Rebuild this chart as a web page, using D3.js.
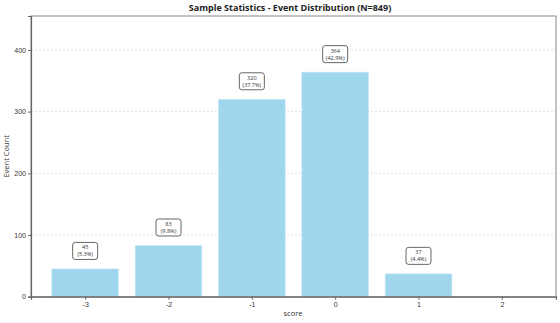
<!DOCTYPE html>
<html><head><meta charset="utf-8">
<script src="https://cdn.jsdelivr.net/npm/d3@7"></script>
<style>body{margin:0;background:#fff;} svg{display:block;font-family:"Open Sans",sans-serif;}</style>
</head><body>
<script>
const categories = [-3, -2, -1, 0, 1, 2];
const counts = [45, 83, 320, 364, 37, 0];
const total = 849;
const yTicks = [0, 100, 200, 300, 400];

const W = 560, H = 323;
const m = {left: 31, right: 4, top: 16, bottom: 26.3};
const svg = d3.select("body").append("svg").attr("width", W).attr("height", H);
const x = d3.scaleLinear().domain([-3.65, 2.65]).range([m.left, W - m.right]);
const y = d3.scaleLinear().domain([0, 455]).range([H - m.bottom, m.top]);
const step = x(1) - x(0);

// grid
svg.append("g").selectAll("line").data(yTicks.slice(1)).join("line")
  .attr("x1", m.left).attr("x2", W - m.right)
  .attr("y1", d => y(d)).attr("y2", d => y(d))
  .attr("stroke", "#d0d0d0").attr("stroke-width", 0.7).attr("stroke-dasharray", "2,2");

// bars
svg.append("g").selectAll("rect").data(categories.map((c, i) => ({c, v: counts[i]})).filter(d => d.v > 0)).join("rect")
  .attr("x", d => x(d.c) - step * 0.4).attr("width", step * 0.8)
  .attr("y", d => y(d.v)).attr("height", d => y(0) - y(d.v))
  .attr("fill", "#9fd6ee").attr("stroke", "#c8e8f5").attr("stroke-width", 0.6);

// frame
svg.append("rect").attr("x", m.left).attr("y", m.top).attr("width", W - m.right - m.left).attr("height", H - m.bottom - m.top)
  .attr("fill", "none").attr("stroke", "#888").attr("stroke-width", 1);

// axes
const xa = svg.append("g").attr("transform", `translate(0,${H - m.bottom})`)
  .call(d3.axisBottom(x).tickValues(categories).tickSize(3).tickPadding(2).tickFormat(d => String(d)));
const ya = svg.append("g").attr("transform", `translate(${m.left},0)`)
  .call(d3.axisLeft(y).tickValues(yTicks).tickSize(3).tickPadding(2));
[xa, ya].forEach(a => {
  a.select(".domain").attr("stroke", "#666").attr("stroke-width", 1.2);
  a.selectAll(".tick line").attr("stroke", "#666");
  a.selectAll(".tick text").attr("fill", "#333").attr("font-size", 7);
});

// annotations
const ann = svg.append("g").selectAll("g").data(categories.map((c, i) => ({c, v: counts[i]})).filter(d => d.v > 0)).join("g")
  .attr("transform", d => `translate(${x(d.c)},${y(d.v) - 18})`);
ann.append("rect").attr("x", -12.5).attr("y", -8.5).attr("width", 25).attr("height", 17).attr("rx", 2.5)
  .attr("fill", "#fff").attr("stroke", "#666").attr("stroke-width", 1);
ann.append("text").attr("text-anchor", "middle").attr("y", -1.5).attr("font-size", 5.5).attr("fill", "#333")
  .text(d => d.v);
ann.append("text").attr("text-anchor", "middle").attr("y", 5.5).attr("font-size", 5.5).attr("fill", "#333")
  .text(d => `(${(d.v / total * 100).toFixed(1)}%)`);

// title & labels
svg.append("text").attr("x", 290).attr("y", 11).attr("text-anchor", "middle")
  .attr("font-size", 9).attr("font-weight", "bold").attr("fill", "#222").text("Sample Statistics - Event Distribution (N=849)");
svg.append("text").attr("x", 293).attr("y", 316).attr("text-anchor", "middle")
  .attr("font-size", 7.5).attr("fill", "#333").text("score");
svg.append("text").attr("transform", `translate(9,${(m.top + H - m.bottom) / 2}) rotate(-90)`).attr("text-anchor", "middle")
  .attr("font-size", 7.5).attr("fill", "#333").text("Event Count");
</script>
</body></html>
